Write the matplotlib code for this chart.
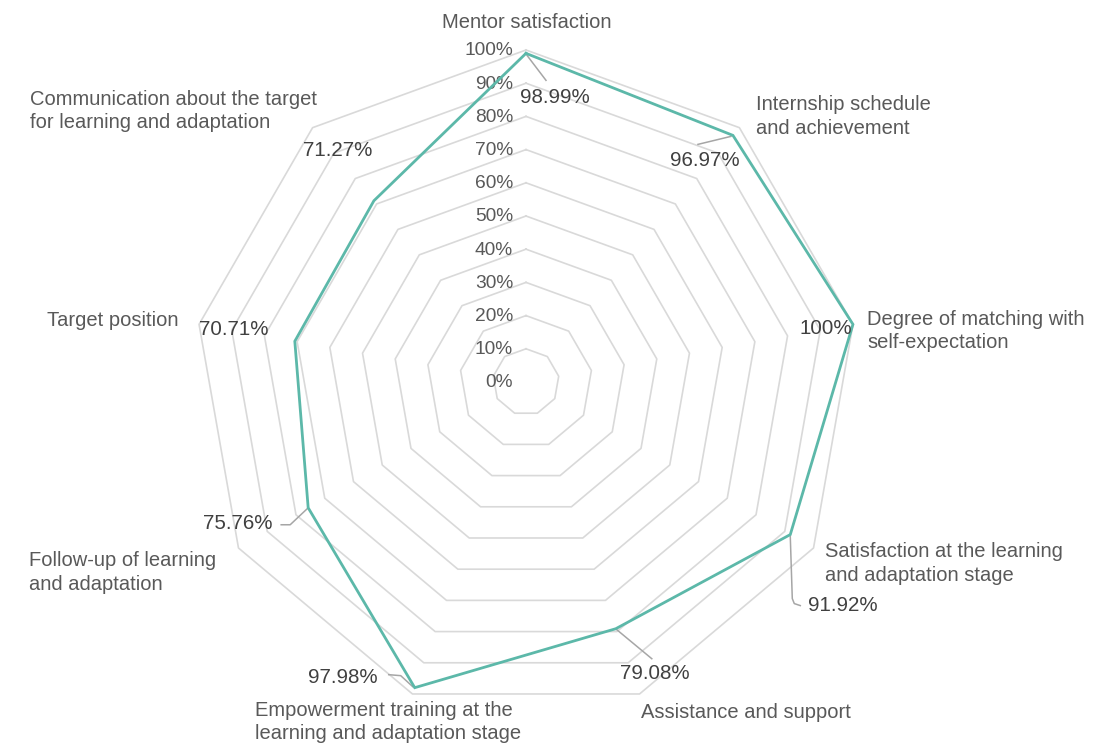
import numpy as np
import matplotlib
matplotlib.use("Agg")
import matplotlib.pyplot as plt

categories = [
    "Mentor satisfaction",
    "Internship schedule\nand achievement",
    "Degree of matching with\nself-expectation",
    "Satisfaction at the learning\nand adaptation stage",
    "Assistance and support",
    "Empowerment training at the\nlearning and adaptation stage",
    "Follow-up of learning\nand adaptation",
    "Target position",
    "Communication about the target\nfor learning and adaptation",
]
values = [98.99, 96.97, 100, 91.92, 79.08, 97.98, 75.76, 70.71, 71.27]
value_labels = ["98.99%", "96.97%", "100%", "91.92%", "79.08%",
                "97.98%", "75.76%", "70.71%", "71.27%"]
levels = [0, 10, 20, 30, 40, 50, 60, 70, 80, 90, 100]
level_labels = [f"{v}%" for v in levels]

plt.rcParams['font.family'] = ['Liberation Sans', 'DejaVu Sans']

W, H = 1117, 747
CX, CY = 526, 382      # centre in pixels
S = 3.32               # pixels per percent

fig = plt.figure(figsize=(W / 100, H / 100), dpi=100)
ax = fig.add_axes([0, 0, 1, 1])
ax.set_xlim(-CX / S, (W - CX) / S)
ax.set_ylim((CY - H) / S, CY / S)
ax.axis("off")


def px(x, y):
    # pixel position -> data position
    return (x - CX) / S, (CY - y) / S


n = len(categories)
ang = np.arange(n) * 2 * np.pi / n
sx, sy = np.sin(ang), np.cos(ang)

# polygon grid
for lv in levels[1:]:
    gx = np.append(lv * sx, lv * sx[0])
    gy = np.append(lv * sy, lv * sy[0])
    ax.plot(gx, gy, color="#d9d9d9", lw=1.2, zorder=1)

# radial tick labels
for lv, lab in zip(levels, level_labels):
    ax.text((513 - CX) / S, lv - 0.3, lab, ha="right", va="center",
            fontsize=13.8, color="#595959", zorder=3)

# data polygon
v = np.array(values)
vx, vy = v * sx, v * sy
ax.plot(np.append(vx, vx[0]), np.append(vy, vy[0]), color="#5cb8a9",
        lw=2.0, zorder=4, solid_joinstyle="miter")

# value labels: offset (pixels, +y down), alignment, leader points
label_cfg = [
    ((29, 44), "center", [(1, 2), (20, 27)]),
    ((-28, 25), "center", [(-2, 1), (-35, 9)]),
    ((-1, 4), "right", None),
    ((18, 71), "left", [(0, 2), (2, 64), (4, 69), (10, 71)]),
    ((39, 45), "center", [(1, 1), (36, 30)]),
    ((-37, -10), "right", [(-2, -1), (-14, -12), (-26, -13)]),
    ((-36, 16), "right", [(-1, 1), (-18, 17), (-27, 17)]),
    ((-26, -12), "right", None),
    ((-2, -50), "right", None),
]
for i, ((ox, oy), ha, lead) in enumerate(label_cfg):
    x0, y0 = vx[i], vy[i]
    ax.annotate(value_labels[i], xy=(x0, y0), xytext=(ox, -oy),
                textcoords="offset pixels", ha=ha, va="center",
                fontsize=14.8, color="#404040", zorder=5)
    if lead:
        lx = [x0 + p[0] / S for p in lead]
        ly = [y0 - p[1] / S for p in lead]
        ax.plot(lx, ly, color="#a6a6a6", lw=1.1, zorder=3)

# category labels (pixel anchors)
cat_pos = [
    ((527, 22), "center"),
    ((756, 116.5), "left"),
    ((867, 331), "left"),
    ((825, 563.5), "left"),
    ((641, 712), "left"),
    ((255, 722), "left"),
    ((29, 572.5), "left"),
    ((47, 320), "left"),
    ((30, 111), "left"),
]
for lab, ((x, y), ha) in zip(categories, cat_pos):
    ax.text(*px(x, y), lab, ha=ha, va="center", fontsize=14.5,
            color="#595959", linespacing=1.27, zorder=5)

fig.savefig("out.png", dpi=100)
